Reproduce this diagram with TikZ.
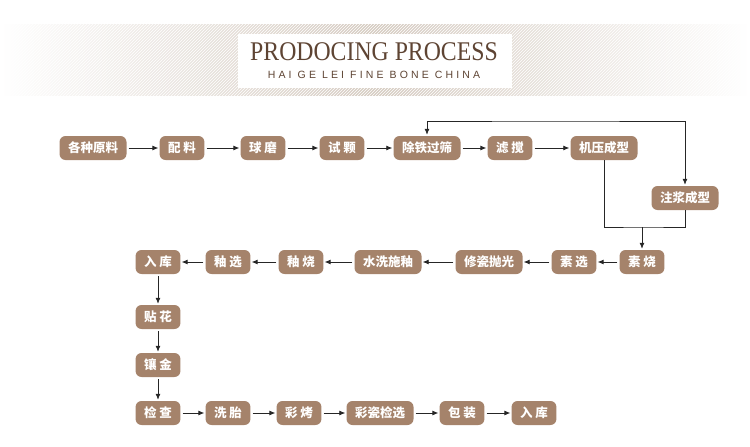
\documentclass[tikz,border=0pt]{standalone}
\usepackage{fontspec}
\setmainfont{Liberation Serif}
\newfontfamily\cjk{Noto Sans CJK SC}[Scale=1]
\newfontfamily\subfont{Liberation Sans}[LetterSpace=30]
\usetikzlibrary{arrows.meta,patterns}

\definecolor{stepbrown}{HTML}{A5836B}
\definecolor{titlebrown}{HTML}{5E4433}
\definecolor{bandgrey}{HTML}{D6CCC2}

\begin{document}
\begin{tikzpicture}[x=1pt, y=-1pt,
    stepbox/.style={rounded corners=6pt, fill=stepbrown, text=white,
      font=\cjk\fontsize{12.5}{12.5}\selectfont\bfseries,
      minimum height=24pt, inner xsep=8.5pt, inner ysep=0pt},
    flow/.style={draw=black!85, line width=0.8pt,
      -{Latex[length=6pt,width=5pt]}, shorten >=1pt, shorten <=2pt},
    link/.style={draw=black!85, line width=0.8pt}]

    \useasboundingbox (0,0) rectangle (750,447);

    % header band
    \shade[left color=white, right color=white, middle color=bandgrey]
      (0,24) rectangle (750,95);
    \fill[pattern=north east lines, pattern color=white]
      (0,24) rectangle (750,95);
    \fill[white] (238,34) rectangle (512,88);
    \node[text=titlebrown, font=\fontsize{27}{27}\selectfont] (title) at (374,52)
      {\scalebox{0.88}[1]{PRODOCING PROCESS}};
    \node[text=titlebrown, font=\subfont\fontsize{10.5}{10.5}\selectfont] (subtitle)
      at (374,75) {HAI GE LEI FINE BONE CHINA};

    % first row
    \node[stepbox] (yuanliao) at (93,148) {各种原料};
    \node[stepbox] (peiliao) at (182,148) {配 料};
    \node[stepbox] (qiumo) at (263,148) {球 磨};
    \node[stepbox] (shike) at (342,148) {试 颗};
    \node[stepbox] (chutie) at (427,148) {除铁过筛};
    \node[stepbox] (lvjiao) at (510,148) {滤 搅};
    \node[stepbox] (jiya) at (604,148) {机压成型};
    \node[stepbox] (zhujiang) at (685,198) {注浆成型};

    % second row
    \node[stepbox] (sushao) at (642,262) {素 烧};
    \node[stepbox] (suxuan) at (574,262) {素 选};
    \node[stepbox] (paoguang) at (489,262) {修瓷抛光};
    \node[stepbox] (shiyou) at (388,262) {水洗施釉};
    \node[stepbox] (youshao) at (301,262) {釉 烧};
    \node[stepbox] (youxuan) at (228,262) {釉 选};
    \node[stepbox] (ruku) at (158,262) {入 库};

    % column and last row
    \node[stepbox] (tiehua) at (158,317) {贴 花};
    \node[stepbox] (xiangjin) at (158,365) {镶 金};
    \node[stepbox] (jiancha) at (158,413) {检 查};
    \node[stepbox] (xitai) at (228,413) {洗 胎};
    \node[stepbox] (caikao) at (299,413) {彩 烤};
    \node[stepbox] (caici) at (380,413) {彩瓷检选};
    \node[stepbox] (baozhuang) at (462,413) {包 装};
    \node[stepbox] (ruku2) at (534,413) {入 库};

    \coordinate (looptop) at (555,121);
    \coordinate (merge) at (642,227);

    % connectors
    \draw[flow] (yuanliao) -- (peiliao);
    \draw[flow] (peiliao) -- (qiumo);
    \draw[flow] (qiumo) -- (shike);
    \draw[flow] (shike) -- (chutie);
    \draw[flow] (chutie) -- (lvjiao);
    \draw[flow] (lvjiao) -- (jiya);
    \draw[flow, {Latex[length=6pt,width=5pt]}-{Latex[length=6pt,width=5pt]}, shorten <=1pt]
      (chutie.north) |- (looptop) -| (zhujiang.north);
    \draw[link] (jiya.south) |- (merge) -| (zhujiang.south);
    \draw[flow, shorten <=0pt] (merge) -- (sushao.north);

    \draw[flow] (sushao) -- (suxuan);
    \draw[flow] (suxuan) -- (paoguang);
    \draw[flow] (paoguang) -- (shiyou);
    \draw[flow] (shiyou) -- (youshao);
    \draw[flow] (youshao) -- (youxuan);
    \draw[flow] (youxuan) -- (ruku);

    \draw[flow] (ruku) -- (tiehua);
    \draw[flow] (tiehua) -- (xiangjin);
    \draw[flow] (xiangjin) -- (jiancha);
    \draw[flow] (jiancha) -- (xitai);
    \draw[flow] (xitai) -- (caikao);
    \draw[flow] (caikao) -- (caici);
    \draw[flow] (caici) -- (baozhuang);
    \draw[flow] (baozhuang) -- (ruku2);
\end{tikzpicture}
\end{document}
